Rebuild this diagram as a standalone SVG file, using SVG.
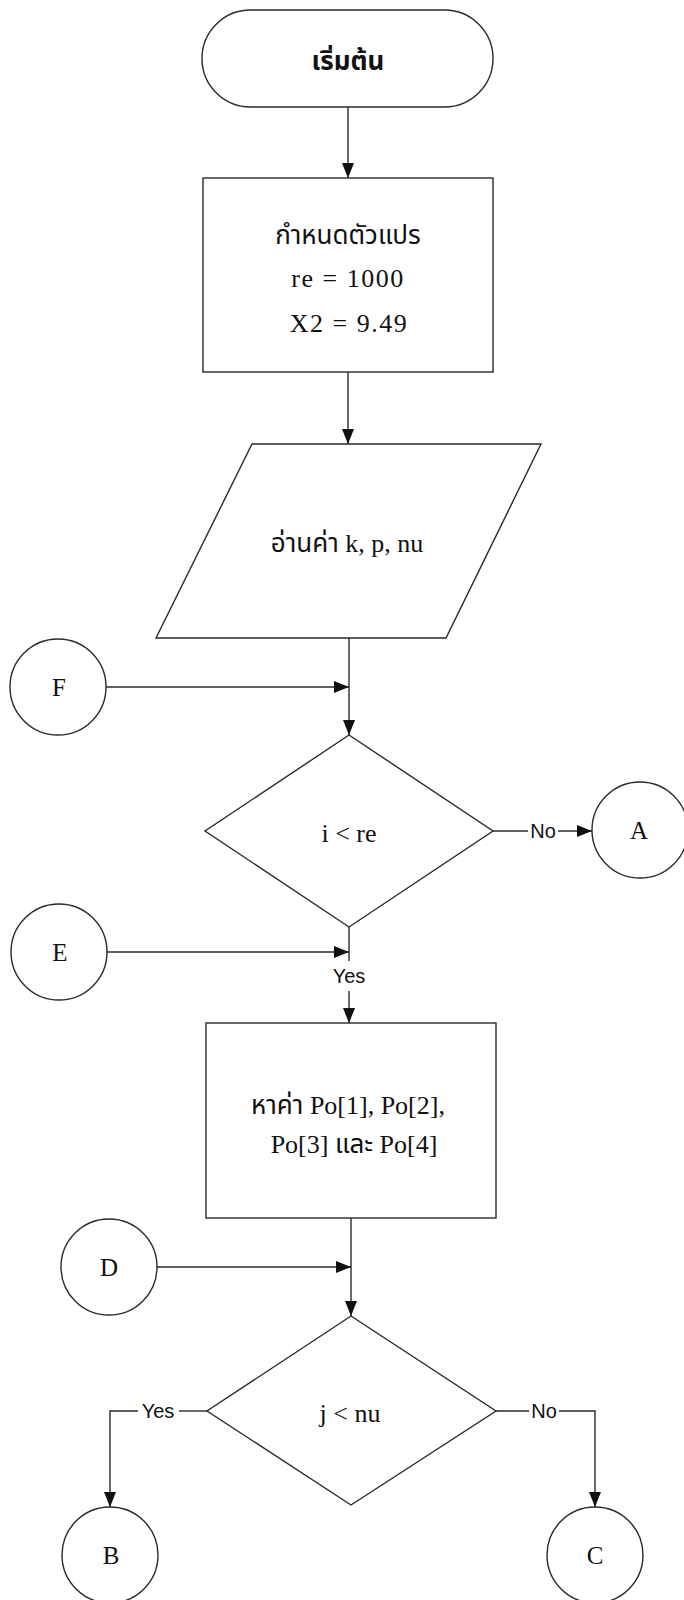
<svg xmlns="http://www.w3.org/2000/svg" width="684" height="1600" viewBox="0 0 684 1600">
<style>
.shape{fill:#fff;stroke:#2a2a2a;stroke-width:1.4}
.line{fill:none;stroke:#2a2a2a;stroke-width:1.4}
.t{font-family:"Liberation Serif","Noto Sans Thai","DejaVu Sans",serif;font-size:26px;fill:#111;text-anchor:middle}
.tb{font-weight:bold}
.ws{letter-spacing:1.5px}
.lbl{font-family:"Liberation Sans","DejaVu Sans",sans-serif;font-size:20px;fill:#111;text-anchor:middle}
.c{font-family:"Liberation Serif",serif;font-size:25px;fill:#111;text-anchor:middle}
</style>
<defs>
<marker id="arr" markerUnits="userSpaceOnUse" markerWidth="15" markerHeight="12" refX="15" refY="6" orient="auto">
<path d="M0,0 L15,6 L0,12 z" fill="#111"/>
</marker>
</defs>
<rect width="684" height="1600" fill="#fff"/>
<g id="connectors">
<line class="line" x1="348" y1="107" x2="348" y2="178" marker-end="url(#arr)"/>
<line class="line" x1="348" y1="372" x2="348" y2="444" marker-end="url(#arr)"/>
<line class="line" x1="349" y1="638" x2="349" y2="735" marker-end="url(#arr)"/>
<line class="line" x1="106" y1="687" x2="349" y2="687" marker-end="url(#arr)"/>
<line class="line" x1="493" y1="831" x2="528" y2="831"/>
<line class="line" x1="558" y1="831" x2="592" y2="831" marker-end="url(#arr)"/>
<line class="line" x1="349" y1="927" x2="349" y2="961"/>
<line class="line" x1="107" y1="952" x2="349" y2="952" marker-end="url(#arr)"/>
<line class="line" x1="349" y1="991" x2="349" y2="1023" marker-end="url(#arr)"/>
<line class="line" x1="351" y1="1218" x2="351" y2="1316" marker-end="url(#arr)"/>
<line class="line" x1="157" y1="1267" x2="351" y2="1267" marker-end="url(#arr)"/>
<polyline class="line" points="207,1411 179,1411"/>
<polyline class="line" points="138,1411 110,1411 110,1507" marker-end="url(#arr)"/>
<polyline class="line" points="496,1411 529,1411"/>
<polyline class="line" points="559,1411 595,1411 595,1507" marker-end="url(#arr)"/>
<text class="lbl" x="543" y="838">No</text>
<text class="lbl" x="349" y="983">Yes</text>
<text class="lbl" x="158" y="1418">Yes</text>
<text class="lbl" x="544" y="1418">No</text>
</g>
<g id="start">
<rect class="shape" x="202" y="10" width="291" height="97" rx="48.5" ry="48.5"/>
<text class="t tb" x="348" y="70">เริ่มต้น</text>
</g>
<g id="init">
<rect class="shape" x="203" y="178" width="290" height="194"/>
<text class="t" x="348" y="244">กำหนดตัวแปร</text>
<text class="t ws" x="348" y="287">re = 1000</text>
<text class="t ws" x="349" y="332">X2 = 9.49</text>
</g>
<g id="input">
<polygon class="shape" points="252,444 541,444 446,638 156,638"/>
<text class="t" x="347" y="552">อ่านค่า k, p, nu</text>
</g>
<g id="cond1">
<polygon class="shape" points="349,735 493,831 349,927 205,831"/>
<text class="t" x="349" y="842">i &lt; re</text>
</g>
<g id="calc">
<rect class="shape" x="206" y="1023" width="290" height="195"/>
<text class="t" x="348" y="1114">หาค่า Po[1], Po[2],</text>
<text class="t" x="354" y="1153">Po[3] และ Po[4]</text>
</g>
<g id="cond2">
<polygon class="shape" points="351,1316 496,1411 351,1505 207,1411"/>
<text class="t" x="350" y="1422">j &lt; nu</text>
</g>
<g id="conF"><circle class="shape" cx="58" cy="687" r="48"/><text class="c" x="59" y="696">F</text></g>
<g id="conA"><circle class="shape" cx="640" cy="830" r="48"/><text class="c" x="639" y="839">A</text></g>
<g id="conE"><circle class="shape" cx="59" cy="952" r="48"/><text class="c" x="60" y="961">E</text></g>
<g id="conD"><circle class="shape" cx="109" cy="1267" r="48"/><text class="c" x="109" y="1276">D</text></g>
<g id="conB"><circle class="shape" cx="110" cy="1555" r="48"/><text class="c" x="111" y="1564">B</text></g>
<g id="conC"><circle class="shape" cx="595" cy="1555" r="48"/><text class="c" x="595" y="1564">C</text></g>
</svg>
